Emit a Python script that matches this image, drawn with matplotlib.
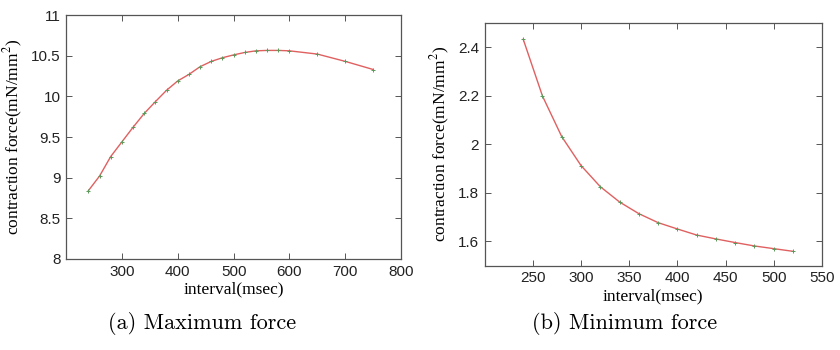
import matplotlib
matplotlib.use("Agg")
import matplotlib.pyplot as plt

plt.rcParams["mathtext.fontset"] = "stix"

# (a) Maximum force
interval_a = [240, 260, 280, 300, 320, 340, 360, 380, 400, 420, 440, 460, 480, 500,
              520, 540, 560, 580, 600, 650, 700, 750]
force_a = [8.84, 9.02, 9.26, 9.44, 9.62, 9.79, 9.935, 10.075, 10.19, 10.27, 10.365,
           10.43, 10.475, 10.51, 10.54, 10.56, 10.565, 10.565, 10.56, 10.52, 10.43, 10.33]

# (b) Minimum force
interval_b = [240, 260, 280, 300, 320, 340, 360, 380, 400, 420, 440, 460, 480, 500, 520]
force_b = [2.432, 2.198, 2.031, 1.912, 1.825, 1.762, 1.714, 1.677, 1.651, 1.626,
           1.610, 1.595, 1.581, 1.570, 1.559]

xticks_a = [300, 400, 500, 600, 700, 800]
yticks_a = [8, 8.5, 9, 9.5, 10, 10.5, 11]
xticks_b = [250, 300, 350, 400, 450, 500, 550]
yticks_b = [1.6, 1.8, 2, 2.2, 2.4]

fig = plt.figure(figsize=(8.4, 3.5), dpi=100)
axA = fig.add_axes([0.0786, 0.26, 0.399, 0.697])
axB = fig.add_axes([0.577, 0.241, 0.4015, 0.694])

serif = "Liberation Serif"
tickfont = "Liberation Sans"

def style(ax):
    for s in ax.spines.values():
        s.set_color("#555555")
        s.set_linewidth(0.9)
    ax.tick_params(direction="in", top=True, right=True, length=4, width=0.7,
                   color="#555555", labelsize=11, pad=4)
    for lbl in ax.get_xticklabels() + ax.get_yticklabels():
        lbl.set_fontfamily(tickfont)
        lbl.set_color("#222222")

line_color = "#e06060"
mk_color = "#5a9a5a"

axA.plot(interval_a, force_a, color=line_color, lw=1.0, marker="+", ms=3,
         mec=mk_color, mew=0.7)
axA.set_xlim(200, 800)
axA.set_ylim(8, 11)
axA.set_xticks(xticks_a)
axA.set_yticks(yticks_a)
axA.set_yticklabels(["8", "8.5", "9", "9.5", "10", "10.5", "11"])
style(axA)
axA.set_xlabel("interval(msec)", fontfamily=serif, fontsize=12.5, labelpad=2)
axA.set_ylabel("contraction force(mN/mm$^2$)", fontfamily=serif, fontsize=12.5, labelpad=4)

axB.plot(interval_b, force_b, color=line_color, lw=1.0, marker="+", ms=3,
         mec=mk_color, mew=0.7)
axB.set_xlim(200, 550)
axB.set_ylim(1.5, 2.5)
axB.set_xticks(xticks_b)
axB.set_yticks(yticks_b)
axB.set_yticklabels(["1.6", "1.8", "2", "2.2", "2.4"])
style(axB)
axB.set_xlabel("interval(msec)", fontfamily=serif, fontsize=12.5, labelpad=2)
axB.set_ylabel("contraction force(mN/mm$^2$)", fontfamily=serif, fontsize=12.5, labelpad=4)

fig.text(0.240, 0.075, "(a) Maximum force", ha="center", va="center",
         fontfamily=["cmr10", "DejaVu Serif"], fontsize=16)
fig.text(0.744, 0.075, "(b) Minimum force", ha="center", va="center",
         fontfamily=["cmr10", "DejaVu Serif"], fontsize=16)

fig.savefig("out.png", dpi=100)
